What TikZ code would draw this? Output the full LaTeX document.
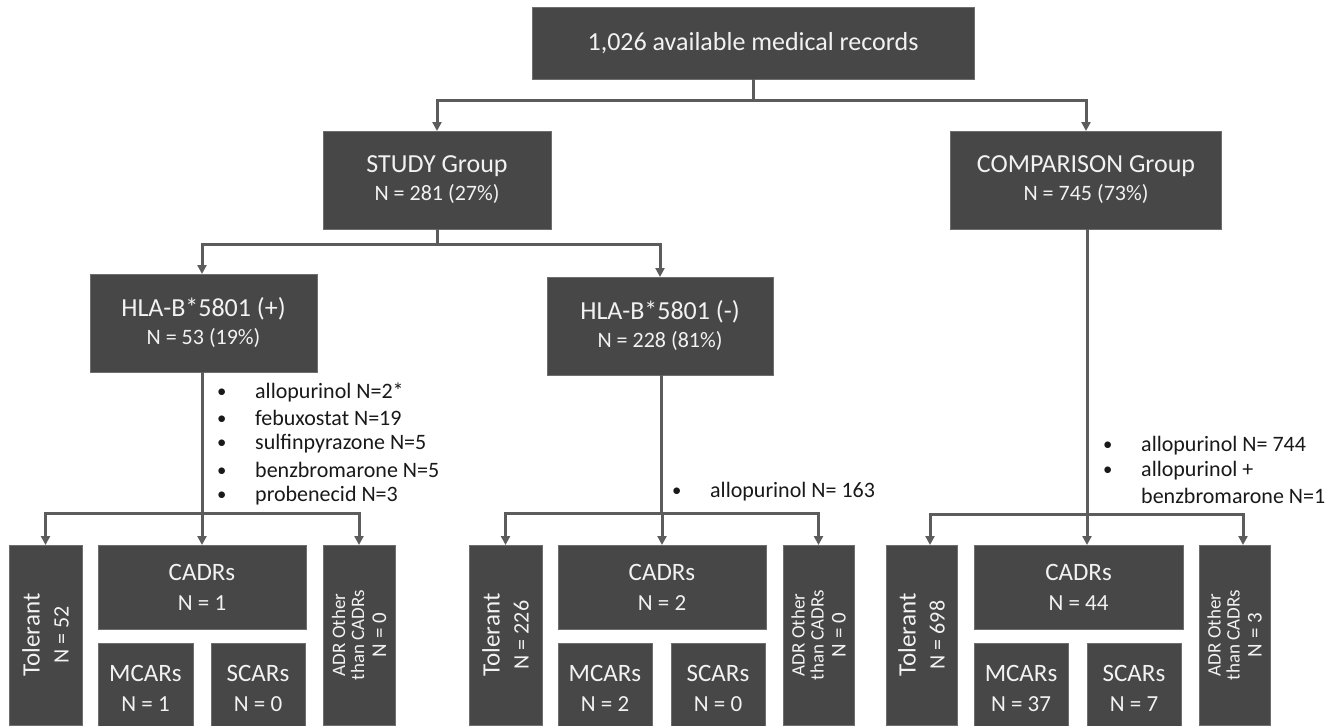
\documentclass[tikz,border=0pt]{standalone}
\usepackage{fontspec}
\setmainfont{Carlito}
\usetikzlibrary{arrows.meta}
\definecolor{boxgray}{HTML}{474747}
\definecolor{boxedge}{HTML}{6E6E6E}
\definecolor{linegray}{HTML}{5C5C5C}
\definecolor{boxtext}{HTML}{F2F2F2}
\tikzset{
  box/.style={fill=boxgray, draw=boxedge, line width=0.7pt, text=boxtext, inner sep=0pt, outer sep=0pt, align=center},
  hd/.style={font=\fontsize{26}{28}\selectfont},
  sub/.style={font=\fontsize{25}{30}\selectfont},
  vt/.style={rotate=90, font=\fontsize{25}{29}\selectfont},
  adr/.style={rotate=90, font=\fontsize{19}{19}\selectfont},
  conn/.style={draw=linegray, line width=3pt},
  arr/.style={conn, -{Triangle[length=9pt,width=9pt]}},
  bul/.style={anchor=west, inner sep=0pt, text=black!90, font=\fontsize{22}{22}\selectfont},
}
\newcommand{\bl}{\makebox[38pt][l]{\raisebox{1pt}{\scalebox{0.85}{•}}}}
\begin{document}
\begin{tikzpicture}[x=1pt,y=-1pt]
\useasboundingbox (0,0) rectangle (1340,725);
\clip (0,0) rectangle (1340,725);
\fill[white] (0,0) rectangle (1340,725);

% top levels
\node[box, hd, minimum width=442, minimum height=72] (top) at (753,43) {1,026 available medical records};
\node[box, hd, minimum width=228, minimum height=98] (study) at (437,180) {STUDY Group\\{\fontsize{22}{28}\selectfont N = 281 (27\%)}};
\node[box, hd, minimum width=271, minimum height=98] (comp) at (1086,180) {COMPARISON Group\\{\fontsize{22}{28}\selectfont N = 745 (73\%)}};
\node[box, hd, minimum width=227, minimum height=98] (hlap) at (203.5,323) {HLA-B*5801 (+)\\{\fontsize{22}{28}\selectfont N = 53 (19\%)}};
\node[box, hd, minimum width=226, minimum height=98] (hlan) at (660,326) {HLA-B*5801 (-)\\{\fontsize{22}{28}\selectfont N = 228 (81\%)}};

% bottom group 1
\node[box, vt, minimum width=180, minimum height=73] (tol1) at (45.5,635) {Tolerant\\{\fontsize{22}{29}\selectfont N = 52}};
\node[box, sub, minimum width=208, minimum height=84] (cad1) at (202,587) {CADRs\\{\fontsize{23}{30}\selectfont N = 1}};
\node[box, sub, minimum width=95, minimum height=90] (mca1) at (145.5,688) {MCARs\\{\fontsize{23}{29}\selectfont N = 1}};
\node[box, sub, minimum width=94, minimum height=90] (sca1) at (258,688) {SCARs\\{\fontsize{23}{29}\selectfont N = 0}};
\node[box, adr, minimum width=180, minimum height=72] (adr1) at (359,635) {ADR Other\\than CADRs\\[3pt]{\fontsize{21}{19}\selectfont N = 0}};

% bottom group 2
\node[box, vt, minimum width=180, minimum height=73] (tol2) at (505.5,635) {Tolerant\\{\fontsize{22}{29}\selectfont N = 226}};
\node[box, sub, minimum width=208, minimum height=84] (cad2) at (662,587) {CADRs\\{\fontsize{23}{30}\selectfont N = 2}};
\node[box, sub, minimum width=94, minimum height=90] (mca2) at (605,688) {MCARs\\{\fontsize{23}{29}\selectfont N = 2}};
\node[box, sub, minimum width=94, minimum height=90] (sca2) at (718,688) {SCARs\\{\fontsize{23}{29}\selectfont N = 0}};
\node[box, adr, minimum width=180, minimum height=71] (adr2) at (818.5,635) {ADR Other\\than CADRs\\[3pt]{\fontsize{21}{19}\selectfont N = 0}};

% bottom group 3
\node[box, vt, minimum width=180, minimum height=71] (tol3) at (921.5,635) {Tolerant\\{\fontsize{22}{29}\selectfont N = 698}};
\node[box, sub, minimum width=209, minimum height=84] (cad3) at (1078.5,587) {CADRs\\{\fontsize{23}{30}\selectfont N = 44}};
\node[box, sub, minimum width=94, minimum height=90] (mca3) at (1021,688) {MCARs\\{\fontsize{23}{29}\selectfont N = 37}};
\node[box, sub, minimum width=94, minimum height=90] (sca3) at (1134,688) {SCARs\\{\fontsize{23}{29}\selectfont N = 7}};
\node[box, adr, minimum width=180, minimum height=71] (adr3) at (1234.5,635) {ADR Other\\than CADRs\\[3pt]{\fontsize{21}{19}\selectfont N = 3}};

% connectors
\coordinate (j1) at (753,100);
\draw[conn] (top.south) -- (j1);
\draw[arr] (j1) -| (study.north);
\draw[arr] (j1) -| (comp.north);

\coordinate (j2) at (437,244);
\draw[conn] (study.south) -- (j2);
\draw[arr] (j2) -| ([xshift=-1.5pt]hlap.north);
\draw[arr] (j2) -| (hlan.north);

\coordinate (j3) at (202,513);
\draw[conn] ([xshift=-1.5pt]hlap.south) -- (j3);
\draw[arr] (j3) -| (tol1.east);
\draw[arr] (j3) -- (cad1.north);
\draw[arr] (j3) -| (adr1.east);

\coordinate (j4) at (661,513);
\draw[conn] ([xshift=1pt]hlan.south) -- (j4);
\draw[arr] (j4) -| (tol2.east);
\draw[arr] (j4) -| (cad2.north);
\draw[arr] (j4) -| (adr2.east);

\coordinate (j5) at (1087,514);
\draw[conn] ([xshift=1pt]comp.south) -- (j5);
\draw[arr] (j5) -| ([xshift=8.5pt]tol3.east);
\draw[arr] (j5) -| ([xshift=8.5pt]cad3.north);
\draw[arr] (j5) -| ([xshift=8.5pt]adr3.east);

% bullet lists
\node[bul] (pa) at (217,392) {\bl allopurinol N=2*};
\node[bul] (pb) at (217,418) {\bl febuxostat N=19};
\node[bul] (pc) at (217,444) {\bl sulfinpyrazone N=5};
\node[bul] (pd) at (217,470) {\bl benzbromarone N=5};
\node[bul] (pe) at (217,496) {\bl probenecid N=3};

\node[bul] (na) at (672,492) {\bl allopurinol N= 163};

\node[bul] (ca) at (1103,446) {\bl allopurinol N= 744};
\node[bul] (cb) at (1103,471) {\bl allopurinol +};
\node[bul] (cc) at (1103,496) {\makebox[38pt][l]{}benzbromarone N=1};
\end{tikzpicture}
\end{document}
